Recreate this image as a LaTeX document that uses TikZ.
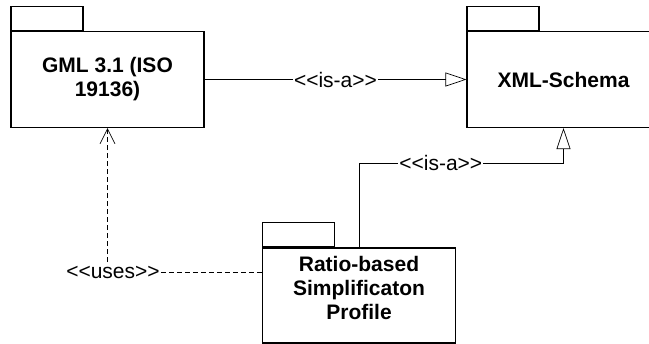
\documentclass[tikz,border=0pt]{standalone}
\usepackage{fontspec}
\newfontfamily\umlfont{Liberation Sans}
\usetikzlibrary{arrows.meta,positioning}

\begin{document}
\begin{tikzpicture}[x=1pt,y=-1pt,
pkg/.style={draw,line width=1.1pt,minimum width=193pt,minimum height=96pt,align=center,font=\fontsize{21}{24}\selectfont\umlfont\bfseries},
pkgtab/.style={draw,line width=1.1pt,minimum width=72pt,minimum height=24pt,anchor=south west,inner sep=0pt},
stereo/.style={fill=white,inner xsep=1pt,font=\fontsize{21}{24}\selectfont\umlfont},
isa/.style={line width=0.7pt,-{Triangle[open,length=21pt,width=14pt]}},
dependency/.style={line width=0.7pt,dash pattern=on 5pt off 3pt}]
\useasboundingbox (0,0) rectangle (649,344);

\node[pkg] (gml) at (107.5,79.5) {GML 3.1 (ISO\\19136)};
\node[pkgtab] (gmltab) at (gml.north west) {};
\node[pkg] (xsd) at (563.5,79.5) {XML-Schema};
\node[pkgtab] (xsdtab) at (xsd.north west) {};
\node[pkg,minimum height=95pt,text depth=15pt] (profile) at (359,295.5) {Ratio-based\\Simplificaton\\Profile};
\node[pkgtab] (profiletab) at (profile.north west) {};

\draw[isa] (gml) -- node[stereo]{<<is-a>>} (xsd);
\coordinate (elbow) at (563.5,163);
\draw[isa] (profile.north) |- node[stereo,pos=0.7]{<<is-a>>} (elbow) -- (xsd.south);

\node[stereo] (usesnote) at (113,272) {<<uses>>};
\draw[dependency,-{Straight Barb[length=15pt,width=15pt]}] (usesnote.north -| gml.south) -- (gml.south);
\draw[dependency] (usesnote.east) -- (usesnote -| profile.west);
\end{tikzpicture}
\end{document}
